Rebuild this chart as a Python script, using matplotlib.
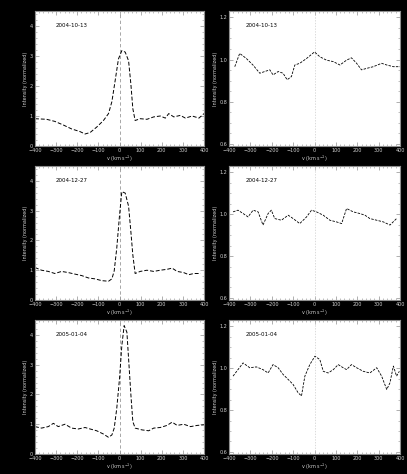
import matplotlib.pyplot as plt
from matplotlib.ticker import MultipleLocator
import numpy as np

# dates of the three observations
dates = ["2004-10-13", "2004-12-27", "2005-01-04"]

# left column: strong line profiles (velocity, normalized intensity)
v_l1 = [-400, -345, -306, -266, -227, -187, -163, -139, -108, -76, -52, -36, -21, -5, 11, 27,
        43, 54, 63, 74, 98, 130, 162, 193, 217, 233, 257, 288, 312, 344, 376, 400]
i_l1 = [0.91, 0.89, 0.82, 0.70, 0.57, 0.48, 0.40, 0.45, 0.63, 0.85, 1.08, 1.48, 2.16, 2.90, 3.18, 3.13,
        2.84, 2.05, 1.25, 0.85, 0.91, 0.89, 0.97, 1.00, 0.93, 1.08, 0.97, 1.02, 0.93, 1.00, 0.93, 1.08]

v_l2 = [-400, -369, -337, -306, -274, -242, -211, -179, -147, -116, -84, -52, -36, -25, -13, 0, 11, 27,
        43, 54, 63, 74, 98, 130, 162, 193, 225, 249, 273, 304, 328, 352, 384]
i_l2 = [1.09, 1.00, 0.96, 0.89, 0.96, 0.92, 0.87, 0.82, 0.74, 0.71, 0.65, 0.63, 0.71, 0.98, 1.74, 2.83, 3.64, 3.59,
        3.15, 2.28, 1.52, 0.89, 0.96, 1.00, 0.96, 1.00, 1.03, 1.07, 0.96, 0.92, 0.85, 0.89, 0.89]

v_l3 = [-400, -369, -337, -313, -290, -258, -227, -195, -163, -139, -108, -76, -52, -36, -25, -13, 0, 11, 22, 35,
        44, 54, 63, 74, 106, 138, 162, 193, 225, 249, 273, 304, 336, 368, 400]
i_l3 = [0.92, 0.87, 0.92, 1.03, 0.92, 1.00, 0.87, 0.84, 0.89, 0.84, 0.78, 0.67, 0.56, 0.64, 0.87, 1.53, 2.53, 3.64, 4.31, 4.09,
        3.09, 1.98, 1.09, 0.87, 0.81, 0.78, 0.87, 0.89, 0.96, 1.07, 0.96, 1.00, 0.92, 0.96, 0.98]

# right column: weak / flat profiles
v_r1 = [-373, -350, -319, -288, -256, -233, -209, -194, -170, -147, -128, -108, -92, -69, -37, 0, 25,
        56, 88, 119, 150, 173, 197, 220, 244, 275, 314, 338, 369, 400]
i_r1 = [0.966, 1.029, 1.005, 0.974, 0.935, 0.943, 0.951, 0.927, 0.943, 0.935, 0.904, 0.919, 0.974, 0.982, 1.005, 1.036, 1.013,
        0.997, 0.990, 0.974, 0.997, 1.008, 0.982, 0.951, 0.958, 0.966, 0.982, 0.974, 0.966, 0.966]

v_r2 = [-381, -358, -334, -311, -287, -264, -241, -217, -202, -186, -155, -123, -100, -69, -37, -14, 9,
        41, 72, 103, 127, 150, 181, 212, 236, 259, 291, 322, 353, 384]
i_r2 = [1.011, 1.019, 1.003, 0.987, 1.019, 1.011, 0.948, 1.003, 1.019, 0.979, 0.971, 0.995, 0.979, 0.955, 0.987, 1.019, 1.011,
        0.995, 0.971, 0.963, 0.955, 1.027, 1.011, 1.003, 0.995, 0.979, 0.971, 0.963, 0.948, 0.979]

v_r3 = [-381, -358, -334, -303, -272, -241, -217, -194, -170, -147, -123, -100, -77, -61, -45, -22, 2, 25,
        41, 64, 88, 111, 134, 150, 173, 197, 228, 259, 291, 314, 338, 353, 369, 384, 397]
i_r3 = [0.962, 0.993, 1.025, 1.002, 1.006, 0.993, 0.977, 1.017, 1.002, 0.970, 0.946, 0.922, 0.883, 0.867, 0.962, 1.017, 1.057, 1.041,
        0.985, 0.977, 0.993, 1.017, 1.002, 0.993, 1.017, 1.002, 0.985, 0.977, 1.002, 0.962, 0.898, 0.930, 1.010, 0.962, 0.985]

left_data = [(v_l1, i_l1), (v_l2, i_l2), (v_l3, i_l3)]
right_data = [(v_r1, i_r1), (v_r2, i_r2), (v_r3, i_r3)]

W, H = 407, 474
fig = plt.figure(figsize=(W / 100, H / 100), dpi=100, facecolor="black")

# axes boxes in pixels: (left, top, right, bottom)
left_boxes = [(35, 11, 204, 146), (35, 166, 204, 300), (35, 320, 204, 454)]
right_boxes = [(229, 11, 400, 146), (229, 166, 400, 300), (229, 320, 400, 454)]

def make_ax(box):
    l, t, r, b = box
    return fig.add_axes([l / W, 1 - b / H, (r - l) / W, (b - t) / H])

def style(ax):
    ax.set_facecolor("white")
    for s in ax.spines.values():
        s.set_color("#909090")
        s.set_linewidth(0.8)
    ax.set_xlim(-400, 400)
    ax.xaxis.set_major_locator(MultipleLocator(100))
    ax.xaxis.set_minor_locator(MultipleLocator(20))
    ax.tick_params(which="both", direction="in", top=True, right=True,
                   colors="#909090", labelcolor="#d0d0d0", labelsize=3.5, pad=1.5)
    ax.tick_params(which="major", length=3, width=0.5)
    ax.tick_params(which="minor", length=1.5, width=0.4)
    ax.set_xlabel("v (km s$^{-1}$)", color="#d0d0d0", fontsize=3.5, labelpad=0.5)

for k in range(3):
    ax = make_ax(left_boxes[k])
    style(ax)
    v, i = left_data[k]
    ax.axvline(0, color="#999999", lw=0.6, ls=(0, (4, 3)))
    ax.plot(v, i, color="black", lw=0.7, ls=(0, (4, 2)))
    ax.set_ylim(0, 4.5)
    ax.yaxis.set_major_locator(MultipleLocator(1))
    ax.yaxis.set_minor_locator(MultipleLocator(0.2))
    ax.set_ylabel("Intensity (normalized)", color="#d0d0d0", fontsize=3.5, labelpad=1)
    ax.text(0.12, 0.88, dates[k], transform=ax.transAxes, fontsize=4, color="black")

for k in range(3):
    ax = make_ax(right_boxes[k])
    style(ax)
    v, i = right_data[k]
    ax.axvline(0, color="#cccccc", lw=0.5, ls=(0, (2, 2)))
    ax.plot(v, i, color="black", lw=0.6, ls=(0, (3, 1.5)))
    ax.set_ylim(0.59, 1.23)
    ax.yaxis.set_major_locator(MultipleLocator(0.2))
    ax.yaxis.set_minor_locator(MultipleLocator(0.05))
    ax.set_ylabel("Intensity (normalized)", color="#d0d0d0", fontsize=3.5, labelpad=1)
    ax.text(0.1, 0.88, dates[k], transform=ax.transAxes, fontsize=4, color="black")

fig.savefig("out.png", dpi=100, facecolor="black")
